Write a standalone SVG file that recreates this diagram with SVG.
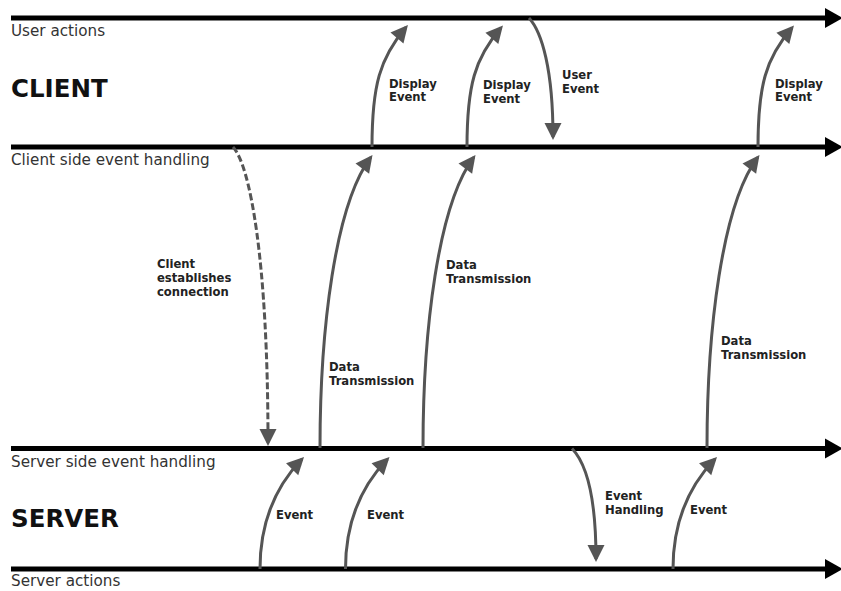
<svg xmlns="http://www.w3.org/2000/svg" width="841" height="591" viewBox="0 0 841 591">
  <defs>
    <style>
      .lane { stroke: #000; stroke-width: 5; fill: none; }
      .lane-label { font-family: "DejaVu Sans", Verdana, sans-serif; font-size: 15.2px; fill: #333; }
      .title { font-family: "DejaVu Sans", Verdana, sans-serif; font-size: 24.5px; font-weight: bold; fill: #111; }
      .flow { stroke: #555; stroke-width: 3; fill: none; marker-end: url(#head); }
      .dashed { stroke-dasharray: 7 3; }
      .note { font-family: "DejaVu Sans", Verdana, sans-serif; font-size: 11.6px; font-weight: bold; fill: #222; }
    </style>
    <marker id="lane-head" markerUnits="userSpaceOnUse" markerWidth="20" markerHeight="24" refX="1" refY="10" orient="auto" overflow="visible">
      <path d="M0,0 L18,10 L0,20 z" fill="#000"/>
    </marker>
    <marker id="head" markerUnits="userSpaceOnUse" markerWidth="18" markerHeight="18" refX="14" refY="8.5" orient="auto" overflow="visible">
      <path d="M0,0 L17,8.5 L0,17 z" fill="#555"/>
    </marker>
  </defs>

  <rect width="841" height="591" fill="#fff"/>

  <!-- timelines -->
  <g id="user-actions">
    <line class="lane" x1="11" y1="18" x2="826" y2="18" marker-end="url(#lane-head)"/>
    <text class="lane-label" x="11" y="36">User actions</text>
  </g>
  <g id="client-title">
    <text class="title" x="11" y="97">CLIENT</text>
  </g>
  <g id="client-events">
    <line class="lane" x1="11" y1="147" x2="826" y2="147" marker-end="url(#lane-head)"/>
    <text class="lane-label" x="11" y="165">Client side event handling</text>
  </g>
  <g id="server-events">
    <line class="lane" x1="11" y1="448.5" x2="826" y2="448.5" marker-end="url(#lane-head)"/>
    <text class="lane-label" x="11" y="467">Server side event handling</text>
  </g>
  <g id="server-title">
    <text class="title" x="11" y="527">SERVER</text>
  </g>
  <g id="server-actions">
    <line class="lane" x1="11" y1="569" x2="826" y2="569" marker-end="url(#lane-head)"/>
    <text class="lane-label" x="11" y="586">Server actions</text>
  </g>

  <!-- connectors -->
  <g id="connectors">
    <g id="display-event-1">
      <path class="flow" d="M372,147 C372,85 380,58 406,27.3"/>
      <text class="note" x="389" y="87.5">Display</text>
      <text class="note" x="389" y="101">Event</text>
    </g>
    <g id="display-event-2">
      <path class="flow" d="M467,147 C467,85 475,58 501,27.8"/>
      <text class="note" x="483" y="89">Display</text>
      <text class="note" x="483" y="102.5">Event</text>
    </g>
    <g id="user-event">
      <path class="flow" d="M529,18 C542,32 553,70 553,137"/>
      <text class="note" x="562" y="78.5">User</text>
      <text class="note" x="562" y="92.5">Event</text>
    </g>
    <g id="display-event-3">
      <path class="flow" d="M758,147 C758,85 766,58 792,27.8"/>
      <text class="note" x="775" y="87.5">Display</text>
      <text class="note" x="775" y="101">Event</text>
    </g>
    <g id="connect">
      <path class="flow dashed" d="M233,147 C250,165 268,260 268,443"/>
      <text class="note" x="157" y="267.5">Client</text>
      <text class="note" x="157" y="281.5">establishes</text>
      <text class="note" x="157" y="295.5">connection</text>
    </g>
    <g id="data-transmission-1">
      <path class="flow" d="M320,448 C320,330 335,205 370.7,157.4"/>
      <text class="note" x="329" y="371">Data</text>
      <text class="note" x="329" y="385">Transmission</text>
    </g>
    <g id="data-transmission-2">
      <path class="flow" d="M423,448 C423,330 438,205 473.7,157.4"/>
      <text class="note" x="446" y="268.5">Data</text>
      <text class="note" x="446" y="282.5">Transmission</text>
    </g>
    <g id="data-transmission-3">
      <path class="flow" d="M707,448 C707,330 722,205 757.7,157.4"/>
      <text class="note" x="721" y="344.5">Data</text>
      <text class="note" x="721" y="359">Transmission</text>
    </g>
    <g id="event-1">
      <path class="flow" d="M260,569 C260,525 274,488 301.9,459.2"/>
      <text class="note" x="276" y="518.5">Event</text>
    </g>
    <g id="event-2">
      <path class="flow" d="M345.5,569 C345.5,525 359.5,488 387.4,459.2"/>
      <text class="note" x="367" y="518.5">Event</text>
    </g>
    <g id="event-handling">
      <path class="flow" d="M572,448.5 C585,462 596,490 596,559"/>
      <text class="note" x="605" y="500">Event</text>
      <text class="note" x="605" y="514">Handling</text>
    </g>
    <g id="event-3">
      <path class="flow" d="M673,569 C673,525 687,488 714.9,459.2"/>
      <text class="note" x="690" y="514">Event</text>
    </g>
  </g>
</svg>
